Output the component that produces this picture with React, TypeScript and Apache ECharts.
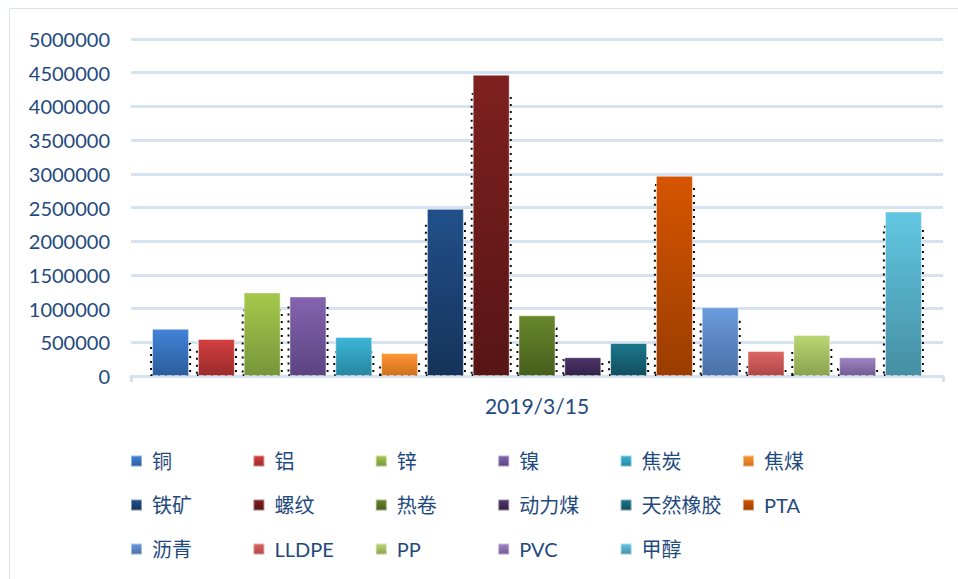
import React, { useEffect, useRef } from "react";
import * as echarts from "echarts";

const categories = ["2019/3/15"];
const seriesNames = ["铜", "铝", "锌", "镍", "焦炭", "焦煤", "铁矿", "螺纹", "热卷", "动力煤", "天然橡胶", "PTA", "沥青", "LLDPE", "PP", "PVC", "甲醇"];
const seriesValues = [700000, 550000, 1240000, 1180000, 580000, 340000, 2480000, 4470000, 900000, 280000, 490000, 2970000, 1020000, 370000, 610000, 280000, 2440000];
// heights of the dotted guide outlines drawn behind each bar
const outlineValues = [490000, 410000, 990000, 1050000, 370000, 190000, 2280000, 4200000, 720000, 250000, 280000, 2850000, 820000, 150000, 400000, 120000, 2230000];
const topColors = ["#4183d7", "#d43f3f", "#a5c94c", "#8464b0", "#3cb6d8", "#fd9535", "#21508a", "#7f2020", "#67882c", "#4e366b", "#1c778c", "#d65500", "#6a9bdc", "#de6565", "#bad674", "#a086c4", "#62c7e3"];
const bottomColors = ["#2b5d9c", "#9c2c2c", "#76963a", "#5c4381", "#2686a0", "#d0701c", "#15335a", "#571515", "#465e1c", "#322246", "#124f5e", "#9a3d00", "#4a70a6", "#ad4747", "#8ca24f", "#725a93", "#458fa3"];
const legendColumns = [
  ["铜", "铁矿", "沥青"],
  ["铝", "螺纹", "LLDPE"],
  ["锌", "热卷", "PP"],
  ["镍", "动力煤", "PVC"],
  ["焦炭", "天然橡胶", "甲醇"],
  ["焦煤", "PTA"],
];

const FONT = "Lato, 'Noto Sans CJK SC', sans-serif";
const TEXT_COLOR = "#1f4a7e";
const GRID_COLOR = "#d5e2f2";

export default function App() {
  const ref = useRef<HTMLDivElement>(null);

  useEffect(() => {
    if (!ref.current) return;
    const chart = echarts.init(ref.current, null, { renderer: "svg" });

    const barSeries = seriesNames.map((name, i) => ({
      type: "bar",
      name,
      xAxisIndex: 0,
      yAxisIndex: 0,
      barWidth: 37,
      barGap: "23.8%",
      z: 3,
      data: [seriesValues[i]],
      itemStyle: {
        color: {
          type: "linear",
          x: 0,
          y: 0,
          x2: 0,
          y2: 1,
          colorStops: [
            { offset: 0, color: topColors[i] },
            { offset: 1, color: bottomColors[i] },
          ],
        },
        borderColor: "rgba(255,255,255,0.45)",
        borderWidth: 1,
      },
    }));

    const outlineSeries = seriesNames.map((name, i) => ({
      type: "bar",
      name: "outline-" + name,
      xAxisIndex: 1,
      yAxisIndex: 0,
      barWidth: 41,
      barGap: "11.7%",
      z: 2,
      silent: true,
      data: [outlineValues[i]],
      itemStyle: {
        color: "rgba(0,0,0,0)",
        borderColor: "#000",
        borderWidth: 2,
        borderType: [2, 5],
      },
    }));

    const legends = legendColumns.map((col, ci) => ({
      orient: "vertical",
      left: 130 + ci * 122.4,
      top: 449,
      padding: 0,
      itemGap: 20,
      itemWidth: 11,
      itemHeight: 11,
      icon: "rect",
      data: col,
      textStyle: {
        fontFamily: FONT,
        fontSize: 20,
        lineHeight: 24,
        color: TEXT_COLOR,
        padding: [0, 0, 0, 5],
      },
    }));

    chart.setOption({
      animation: false,
      backgroundColor: "#ffffff",
      graphic: [
        {
          type: "rect",
          shape: { x: 9.5, y: 8.5, width: 970, height: 620 },
          style: { fill: "none", stroke: GRID_COLOR, lineWidth: 1 },
          silent: true,
        },
      ],
      grid: { left: 131, right: 15, top: 39, bottom: 203, containLabel: false },
      legend: legends,
      xAxis: [
        {
          type: "category",
          data: categories,
          boundaryGap: true,
          axisLine: { show: true, lineStyle: { color: GRID_COLOR, width: 3 } },
          axisTick: { show: true, length: 6, lineStyle: { color: GRID_COLOR, width: 3 } },
          axisLabel: { margin: 19, fontFamily: FONT, fontSize: 21, color: TEXT_COLOR },
        },
        {
          type: "category",
          data: categories,
          show: false,
        },
      ],
      yAxis: [
        {
          type: "value",
          min: 0,
          max: 5000000,
          interval: 500000,
          axisLine: { show: false },
          axisTick: { show: false },
          splitLine: { show: true, lineStyle: { color: GRID_COLOR, width: 3 } },
          axisLabel: {
            margin: 21,
            fontFamily: FONT,
            fontSize: 20,
            color: TEXT_COLOR,
            formatter: (v: number) => String(v),
          },
        },
      ],
      series: [...outlineSeries, ...barSeries],
    });

    return () => chart.dispose();
  }, []);

  return (
    <div
      ref={ref}
      style={{ position: "fixed", left: 0, top: 0, width: 958, height: 579, background: "#fff" }}
    />
  );
}
